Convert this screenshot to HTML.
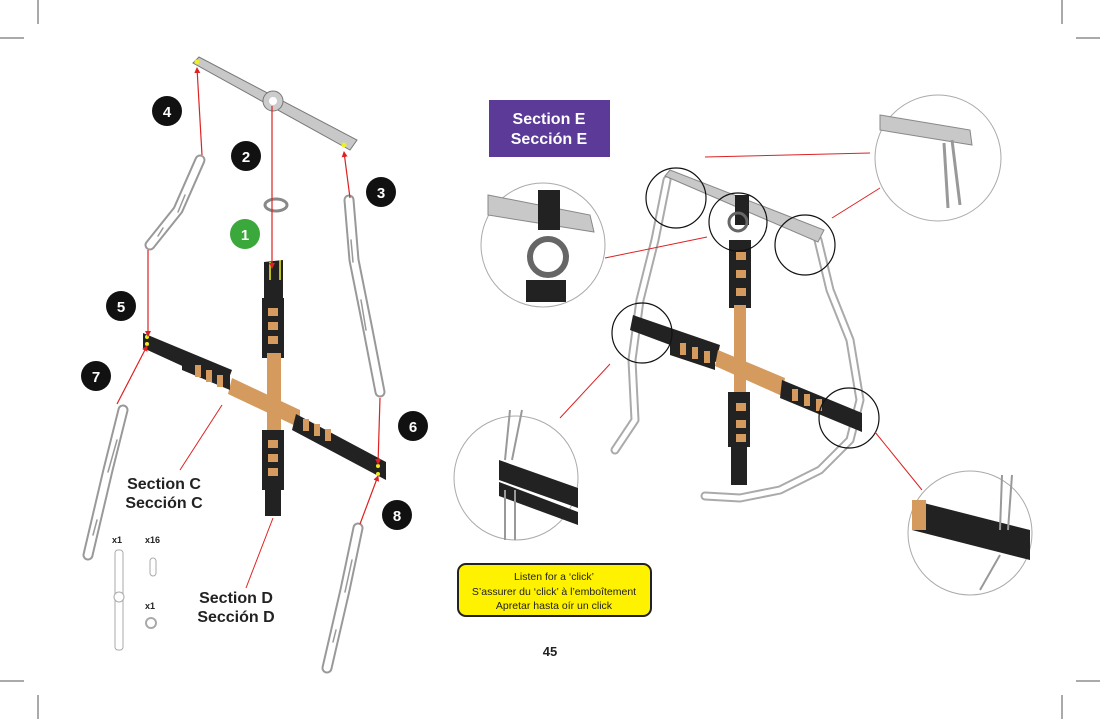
<!DOCTYPE html>
<html><head><meta charset="utf-8"><style>
html,body{margin:0;padding:0;background:#fff;width:1100px;height:719px;overflow:hidden}
svg{display:block}
text{font-family:"Liberation Sans",sans-serif}
</style></head><body>
<svg width="1100" height="719" viewBox="0 0 1100 719" xmlns="http://www.w3.org/2000/svg">
<defs>
<marker id="ar" viewBox="0 0 6 6" refX="5" refY="3" markerWidth="5" markerHeight="5" orient="auto"><path d="M0,0L6,3L0,6z" fill="#d22"/></marker>
</defs>
<g stroke="#555" stroke-width="1">
<line x1="38" y1="0" x2="38" y2="24"/><line x1="0" y1="38" x2="24" y2="38"/>
<line x1="1062" y1="0" x2="1062" y2="24"/><line x1="1076" y1="38" x2="1100" y2="38"/>
<line x1="38" y1="695" x2="38" y2="719"/><line x1="0" y1="681" x2="24" y2="681"/>
<line x1="1062" y1="695" x2="1062" y2="719"/><line x1="1076" y1="681" x2="1100" y2="681"/>
</g>

<!-- LEFT chains -->
<g fill="none" stroke-linecap="round" stroke-linejoin="round">
<g stroke="#999" stroke-width="11">
<path d="M200,160 L178,210 L150,245"/>
<path d="M349,200 L354,260 L368,330 L380,392"/>
<path d="M123,410 L108,470 L88,555"/>
<path d="M358,528 L345,590 L327,668"/>
</g>
<g stroke="#fff" stroke-width="7">
<path d="M200,160 L178,210 L150,245"/>
<path d="M349,200 L354,260 L368,330 L380,392"/>
<path d="M123,410 L108,470 L88,555"/>
<path d="M358,528 L345,590 L327,668"/>
</g>
<g stroke="#999" stroke-width="1.5">
<path d="M185,195 L178,212 M163,228 L158,236 M351,240 L353,262 M361,300 L366,330 M117,440 L108,472 M97,520 L93,535 M352,560 L345,592 M336,630 L333,642"/>
</g>
</g>
<polygon points="193,63 199,57 357,140 350,150" fill="#c8c8c8" stroke="#777"/>
<circle cx="273" cy="101" r="10" fill="#ccc" stroke="#777"/><circle cx="273" cy="101" r="4" fill="#fff"/>
<circle cx="197" cy="62" r="2.5" fill="#ee2"/><circle cx="344" cy="145" r="2.5" fill="#ee2"/>
<ellipse cx="276" cy="205" rx="11" ry="6" fill="none" stroke="#888" stroke-width="3"/>
<polygon points="264,262 283,260 283,300 264,302" fill="#222"/>
<line x1="270" y1="262" x2="270" y2="280" stroke="#ee2" stroke-width="1.5"/>
<line x1="280" y1="260" x2="280" y2="280" stroke="#ee2" stroke-width="1.5"/>
<rect x="262" y="298" width="22" height="60" fill="#222"/>
<rect x="267" y="353" width="14" height="80" fill="#d49a5e"/>
<rect x="262" y="430" width="22" height="60" fill="#222"/>
<rect x="265" y="488" width="16" height="28" fill="#222"/>
<g fill="#d49a5e"><rect x="268" y="308" width="10" height="8"/><rect x="268" y="322" width="10" height="8"/><rect x="268" y="336" width="10" height="8"/><rect x="268" y="440" width="10" height="8"/><rect x="268" y="454" width="10" height="8"/><rect x="268" y="468" width="10" height="8"/></g>
<polygon points="143,333 232,370 226,386 143,348" fill="#222"/>
<polygon points="232,378 300,410 300,428 228,394" fill="#d49a5e"/>
<polygon points="296,414 386,462 386,480 292,430" fill="#222"/>
<polygon points="182,350 230,370 230,390 182,370" fill="#222"/>
<g fill="#d49a5e"><rect x="195" y="365" width="6" height="12"/><rect x="206" y="370" width="6" height="12"/><rect x="217" y="375" width="6" height="12"/><rect x="303" y="419" width="6" height="12"/><rect x="314" y="424" width="6" height="12"/><rect x="325" y="429" width="6" height="12"/></g>
<circle cx="147" cy="337" r="2" fill="#ee2"/><circle cx="147" cy="344" r="2" fill="#ee2"/>
<circle cx="378" cy="466" r="2" fill="#ee2"/><circle cx="378" cy="474" r="2" fill="#ee2"/>
<g stroke="#d22" stroke-width="1.2" fill="none" marker-end="url(#ar)">
<line x1="202" y1="155" x2="197" y2="68"/>
<line x1="272" y1="106" x2="272" y2="268"/>
<line x1="350" y1="198" x2="344" y2="152"/>
<line x1="148" y1="250" x2="148" y2="336"/>
<line x1="117" y1="404" x2="147" y2="346"/>
<line x1="380" y1="398" x2="378" y2="464"/>
<line x1="360" y1="524" x2="378" y2="476"/>
</g>
<g stroke="#d22" stroke-width="1"><line x1="222" y1="405" x2="180" y2="470"/><line x1="273" y1="518" x2="246" y2="588"/></g>
<g font-size="15" font-weight="bold" fill="#fff" text-anchor="middle">
<circle cx="167" cy="111" r="15" fill="#111"/><text x="167" y="117">4</text>
<circle cx="246" cy="156" r="15" fill="#111"/><text x="246" y="162">2</text>
<circle cx="381" cy="192" r="15" fill="#111"/><text x="381" y="198">3</text>
<circle cx="245" cy="234" r="15" fill="#3aa83a"/><text x="245" y="240">1</text>
<circle cx="121" cy="306" r="15" fill="#111"/><text x="121" y="312">5</text>
<circle cx="96" cy="376" r="15" fill="#111"/><text x="96" y="382">7</text>
<circle cx="413" cy="426" r="15" fill="#111"/><text x="413" y="432">6</text>
<circle cx="397" cy="515" r="15" fill="#111"/><text x="397" y="521">8</text>
</g>
<g font-size="16" font-weight="bold" fill="#222" text-anchor="middle">
<text x="164" y="489">Section C</text><text x="164" y="508">Sección C</text>
<text x="236" y="603">Section D</text><text x="236" y="622">Sección D</text>
</g>
<g font-size="9" font-weight="bold" fill="#222"><text x="112" y="543">x1</text><text x="145" y="543">x16</text><text x="145" y="609">x1</text></g>
<rect x="115" y="550" width="8" height="100" rx="3" fill="none" stroke="#aaa"/>
<circle cx="119" cy="597" r="5" fill="#fff" stroke="#aaa"/>
<rect x="150" y="558" width="6" height="18" rx="3" fill="none" stroke="#aaa"/>
<circle cx="151" cy="623" r="5" fill="none" stroke="#aaa" stroke-width="2"/>
<text x="550" y="656" font-size="13" font-weight="bold" fill="#222" text-anchor="middle">45</text>

<!-- RIGHT -->
<rect x="489" y="100" width="121" height="57" fill="#5b3a98"/>
<g font-size="16" font-weight="bold" fill="#fff" text-anchor="middle"><text x="549" y="124">Section E</text><text x="549" y="144">Sección E</text></g>
<rect x="458" y="564" width="193" height="52" rx="8" fill="#fff200" stroke="#222" stroke-width="2"/>
<g font-size="10.5" fill="#222" text-anchor="middle"><text x="554" y="580">Listen for a ‘click’</text><text x="554" y="595">S’assurer du ‘click’ à l’emboîtement</text><text x="554" y="609">Apretar hasta oír un click</text></g>

<g fill="none" stroke-linecap="round" stroke-linejoin="round">
<g stroke="#aaa" stroke-width="9">
<path d="M667,180 L655,240 L640,300 L632,360 L635,420 L615,450"/>
<path d="M818,240 L830,290 L850,340 L860,400 L850,440 L820,470 L780,490 L740,498 L705,496"/>
</g>
<g stroke="#fff" stroke-width="5">
<path d="M667,180 L655,240 L640,300 L632,360 L635,420 L615,450"/>
<path d="M818,240 L830,290 L850,340 L860,400 L850,440 L820,470 L780,490 L740,498 L705,496"/>
</g>
</g>
<polygon points="665,176 670,170 824,230 818,242" fill="#c8c8c8" stroke="#888"/>
<rect x="735" y="195" width="14" height="30" fill="#222"/>
<circle cx="738" cy="222" r="9" fill="none" stroke="#666" stroke-width="3"/>
<rect x="729" y="240" width="22" height="68" fill="#222"/>
<rect x="734" y="305" width="12" height="90" fill="#d49a5e"/>
<rect x="728" y="392" width="22" height="55" fill="#222"/>
<rect x="731" y="445" width="16" height="40" fill="#222"/>
<g fill="#d49a5e"><rect x="736" y="252" width="10" height="8"/><rect x="736" y="270" width="10" height="8"/><rect x="736" y="288" width="10" height="8"/><rect x="736" y="403" width="10" height="8"/><rect x="736" y="420" width="10" height="8"/><rect x="736" y="434" width="10" height="8"/></g>
<polygon points="633,315 720,345 716,362 630,330" fill="#222"/>
<polygon points="718,350 785,378 782,396 715,366" fill="#d49a5e"/>
<polygon points="782,380 862,413 862,432 780,398" fill="#222"/>
<polygon points="670,335 715,350 715,370 670,355" fill="#222"/>
<g fill="#d49a5e"><rect x="680" y="343" width="6" height="12"/><rect x="692" y="347" width="6" height="12"/><rect x="704" y="351" width="6" height="12"/><rect x="792" y="389" width="6" height="12"/><rect x="804" y="394" width="6" height="12"/><rect x="816" y="399" width="6" height="12"/></g>
<g fill="none" stroke="#111" stroke-width="1.2">
<circle cx="676" cy="198" r="30"/><circle cx="738" cy="222" r="29"/><circle cx="805" cy="245" r="30"/><circle cx="642" cy="333" r="30"/><circle cx="849" cy="418" r="30"/>
</g>
<g stroke="#d22" stroke-width="1"><line x1="705" y1="157" x2="870" y2="153"/><line x1="832" y1="218" x2="880" y2="188"/><line x1="605" y1="258" x2="707" y2="237"/><line x1="560" y1="418" x2="610" y2="364"/><line x1="875" y1="432" x2="922" y2="490"/></g>
<g stroke="#aaa" stroke-width="1" fill="#fff">
<circle cx="938" cy="158" r="63"/><circle cx="543" cy="245" r="62"/><circle cx="516" cy="478" r="62"/><circle cx="970" cy="533" r="62"/>
</g>
<polygon points="880,115 970,130 972,145 880,130" fill="#c8c8c8" stroke="#888"/>
<path d="M952,140 L960,205 M944,143 L948,208" stroke="#999" stroke-width="3" fill="none"/>
<polygon points="488,195 590,215 594,232 488,215" fill="#c8c8c8" stroke="#888"/>
<rect x="538" y="190" width="22" height="40" fill="#222"/>
<circle cx="548" cy="257" r="18" fill="none" stroke="#666" stroke-width="6"/>
<rect x="526" y="280" width="40" height="22" fill="#222"/>
<polygon points="499,460 578,488 578,508 499,480" fill="#222"/>
<polygon points="499,482 578,512 578,525 499,496" fill="#222"/>
<path d="M510,410 L505,460 M522,410 L512,460 M505,490 L505,540 M515,490 L515,540" stroke="#999" stroke-width="2" fill="none"/>
<polygon points="912,500 1030,530 1030,560 912,530" fill="#222"/>
<rect x="912" y="500" width="14" height="30" fill="#d49a5e"/>
<path d="M1002,475 L1000,530 M1012,475 L1008,530 M980,590 L1000,555" stroke="#999" stroke-width="2" fill="none"/>
</svg>
</body></html>
